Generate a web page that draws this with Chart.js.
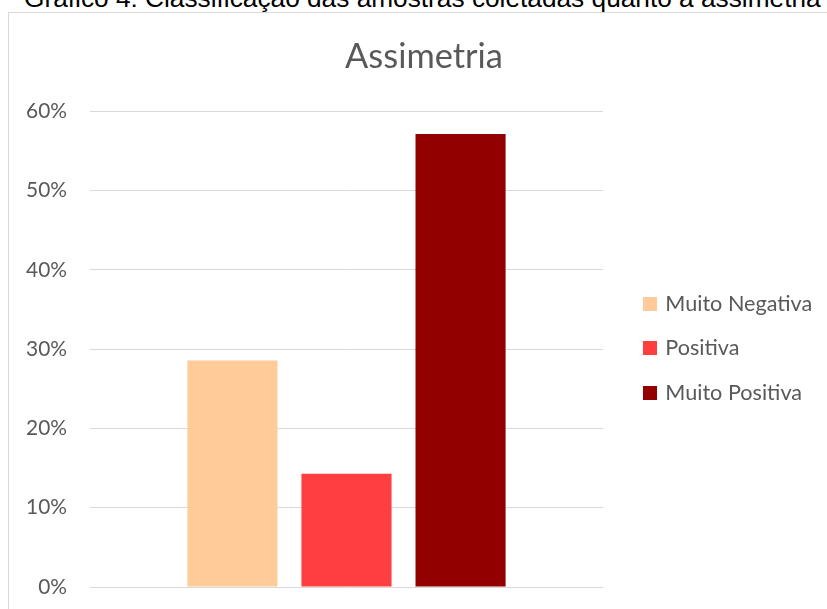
<!DOCTYPE html>
<html>
<head>
<meta charset="utf-8">
<script src="https://cdn.jsdelivr.net/npm/chart.js@4.4.1/dist/chart.umd.min.js"></script>
<style>
  html, body { margin: 0; padding: 0; background: #ffffff; }
  #wrap { position: relative; width: 827px; height: 609px; overflow: hidden; background: #fff; }
  #frame { position: absolute; left: 8px; top: 12px; width: 900px; height: 700px; border: 1px solid #d9d9d9; box-sizing: border-box; }
  #caption { position: absolute; left: 24px; white-space: nowrap; font-family: "Liberation Sans", Arial, sans-serif; color: #000; line-height: 1; }
  #c { position: absolute; left: 0; top: 0; }
</style>
</head>
<body>
<div id="wrap">
  <div id="frame"></div>
  <div id="caption">Gráfico 4: Classificação das amostras coletadas quanto à assimetria</div>
  <canvas id="c" width="827" height="609"></canvas>
</div>
<script>
// ---- data ----
const chartTitle = 'Assimetria';
const categories = ['Assimetria'];
const seriesNames = ['Muito Negativa', 'Positiva', 'Muito Positiva'];
const seriesValues = [28.57, 14.29, 57.14];
const yTickLabels = ['0%', '10%', '20%', '30%', '40%', '50%', '60%'];
const seriesColors = ['#FECB99', '#FF3F3F', '#920000'];

// ---- font fitting helpers ----
const mctx = document.createElement('canvas').getContext('2d');
function fitSize(text, family, target) {
  mctx.font = '100px ' + family;
  return 100 * target / mctx.measureText(text).width;
}
const FAM = 'Lato';
const titleSize = fitSize(chartTitle, FAM, 158);
const legendSize = fitSize('Muito Negativa', FAM, 147);
const tickSize = fitSize('60%', FAM, 41);

const cap = document.getElementById('caption');
const capSize = fitSize(cap.textContent, '"Liberation Sans"', 797);
cap.style.fontSize = capSize + 'px';
cap.style.top = (7 - 0.8465 * capSize) + 'px';

const gray = '#595959';
const legendPad = 44.5 - legendSize;

// square legend markers (14x14)
const markers = seriesColors.map(c => {
  const cv = document.createElement('canvas');
  cv.width = 14; cv.height = 14;
  const g = cv.getContext('2d');
  g.fillStyle = c; g.fillRect(0, 0, 14, 14);
  return cv;
});

Chart.defaults.font.family = FAM;
Chart.defaults.color = gray;

// layout geometry
const legendLeft = 645.5 - legendPad;
const legendW = 827 - legendLeft;
const padL = 21;

const legendWidthPlugin = {
  id: 'legendWidth',
  afterInit(chart) {
    const lg = chart.legend;
    if (!lg) return;
    const fit = lg.fit.bind(lg);
    lg.fit = function () { fit(); this.width = legendW; };
  }
};

new Chart(document.getElementById('c'), {
  type: 'bar',
  data: {
    labels: categories,
    datasets: seriesNames.map((n, i) => ({
      label: n,
      data: [seriesValues[i]],
      backgroundColor: seriesColors[i],
      borderWidth: 0,
      categoryPercentage: 0.667,
      barPercentage: 0.79
    }))
  },
  plugins: [legendWidthPlugin],
  options: {
    responsive: false,
    animation: false,
    devicePixelRatio: 1,
    layout: { padding: { left: padL, right: 0, top: 36, bottom: 22 } },
    plugins: {
      tooltip: { enabled: false },
      title: {
        display: true,
        text: chartTitle,
        color: gray,
        font: { family: FAM, size: titleSize, weight: 'normal', lineHeight: 1.2 },
        padding: { top: 0, bottom: 34 }
      },
      legend: {
        display: true,
        position: 'right',
        align: 'center',
        title: {
          display: true,
          text: '',
          font: { size: 12, lineHeight: 1.2 },
          padding: { top: 59, bottom: 0 }
        },
        labels: {
          usePointStyle: true,
          pointStyleWidth: 9,
          boxWidth: 14,
          boxHeight: 14,
          padding: legendPad,
          color: gray,
          font: { family: FAM, size: legendSize },
          generateLabels: chart => Chart.defaults.plugins.legend.labels.generateLabels(chart)
            .map((l, i) => Object.assign(l, { pointStyle: markers[i] }))
        }
      }
    },
    scales: {
      x: { display: false },
      y: {
        min: 0,
        max: 60,
        ticks: {
          stepSize: 10,
          padding: 0,
          color: gray,
          font: { family: FAM, size: tickSize },
          callback: (v, i) => yTickLabels[i]
        },
        grid: { color: '#d9d9d9', lineWidth: 1, drawTicks: true, tickLength: 23, tickColor: 'rgba(0,0,0,0)' },
        border: { display: false },
        afterFit: s => { s.width = 90 - padL; }
      },
      spacer: {
        type: 'linear',
        position: 'right',
        display: true,
        ticks: { display: false },
        grid: { display: false, drawTicks: false },
        border: { display: false },
        afterFit: s => { s.width = legendLeft - 603; }
      }
    }
  }
});
</script>
</body>
</html>
